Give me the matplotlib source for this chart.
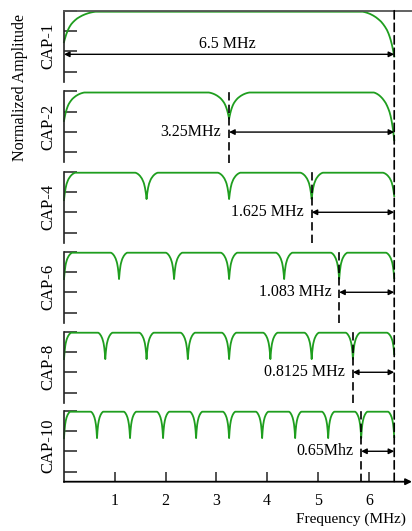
import numpy as np
import matplotlib.pyplot as plt
from matplotlib.patches import ConnectionPatch

plt.rcParams['font.family'] = ['Liberation Serif', 'DejaVu Serif']
plt.rcParams['font.size'] = 11.5

# CAP orders and their subband spacing
cap_orders = [1, 2, 4, 6, 8, 10]
bandwidth = 6.5  # MHz
spacing_labels = ['6.5 MHz', '3.25MHz', '1.625 MHz', '1.083 MHz', '0.8125 MHz', '0.65Mhz']

# shoulder width of each null (MHz) and depth of the curve at the edges / inner nulls
shoulder_w = [0.62, 0.40, 0.22, 0.16, 0.14, 0.12]
left_depth = [1.50, 1.40, 1.35, 1.30, 1.30, 1.30]
right_depth = [2.20, 2.35, 1.15, 1.25, 1.05, 1.25]
inner_depth = 1.30
top_level = 2.95

# null shoulder profile: offset (fraction of shoulder width) -> relative drop
prof_off = [0.0, 0.01, 0.02, 0.04, 0.06, 0.08, 0.11, 0.14, 0.18, 0.23,
            0.29, 0.35, 0.42, 0.50, 0.58, 0.67, 0.76, 0.85, 0.93, 1.0]
prof_drop = [1.0, 0.96, 0.92, 0.85, 0.78, 0.72, 0.64, 0.57, 0.49, 0.41,
             0.34, 0.28, 0.22, 0.17, 0.125, 0.085, 0.052, 0.027, 0.01, 0.0]

# arrow heights per panel (data units)
arrow_y = [0.85, 1.0, 1.0, 1.0, 1.0, 1.0]

green = '#1f9e1f'
W, H = 412, 531
panel_tops = [10.7, 91.5, 171.7, 251.7, 331.7, 410.7]
panel_h = 71
left_px = 64

fig = plt.figure(figsize=(W / 100, H / 100), dpi=100)
axes = []
for i, n in enumerate(cap_orders):
    top = panel_tops[i]
    ax = fig.add_axes([left_px / W, 1 - (top + panel_h) / H, (W - left_px) / W, panel_h / H])
    axes.append(ax)
    ax.set_xlim(0, 6.85)
    ax.set_ylim(-0.5, 3.0)
    ax.set_yticks([0, 1, 2, 3])
    ax.set_yticklabels([])
    for s in ['right', 'bottom']:
        ax.spines[s].set_visible(False)
    ax.spines['top'].set_visible(i == 0)
    ax.spines['top'].set_color('#555555')
    ax.spines['top'].set_linewidth(1.3)
    ax.spines['left'].set_color('#222222')
    ax.spines['left'].set_linewidth(1.2)
    ax.tick_params(axis='y', direction='in', length=9, width=1.2, color='#333333')

    # spectrum: flat top with cusps at every multiple of bandwidth / n
    step = bandwidth / n
    w = shoulder_w[i]
    xs, ys = [], []
    for k in range(n):
        a, b = k * step, (k + 1) * step
        da = left_depth[i] if k == 0 else inner_depth
        db = right_depth[i] if k == n - 1 else inner_depth
        for o, d in zip(prof_off, prof_drop):
            xs.append(a + o * w)
            ys.append(top_level - da * d)
        for o, d in zip(prof_off[::-1], prof_drop[::-1]):
            xs.append(b - o * w)
            ys.append(top_level - db * d)
    ax.plot(xs, ys, color=green, lw=1.3, clip_on=False)

    y = arrow_y[i]
    if n == 1:
        start = 0.0
        ax.text(bandwidth / 2 - 0.03, 1.38, spacing_labels[i], ha='center', va='center')
    else:
        start = bandwidth - step
        ax.axvline(start, color='k', lw=1.2, ls=(0, (5, 2.5)))
        ax.text(start - 0.15, y, spacing_labels[i], ha='right', va='center')
    ax.annotate('', xy=(bandwidth, y), xytext=(start, y),
                arrowprops=dict(arrowstyle='<|-|>', color='k', lw=1.0,
                                mutation_scale=8, shrinkA=0, shrinkB=0))
    ax.text(-0.044, 0.5, f'CAP-{n}', transform=ax.transAxes, rotation=90,
            ha='center', va='center', fontsize=12)

    if i < len(cap_orders) - 1:
        ax.set_xticks([])
    else:
        ax.set_xticks([1, 2, 3, 4, 5, 6])
        ax.tick_params(axis='x', direction='in', length=7.5, width=1.2,
                       color='#333333', pad=8)
        ax.annotate('', xy=(1.0, 0), xytext=(0, 0), xycoords='axes fraction',
                    arrowprops=dict(arrowstyle='-|>', color='k', lw=1.3,
                                    mutation_scale=9, shrinkA=0, shrinkB=0))

# band edge marker running through all panels
edge = ConnectionPatch(xyA=(bandwidth, 3.0), coordsA=axes[0].transData,
                       xyB=(bandwidth, -0.5), coordsB=axes[-1].transData,
                       color='k', lw=1.2, ls=(0, (5, 2.5)))
fig.add_artist(edge)

fig.text(20 / W, 1 - 87.5 / H, 'Normalized Amplitude', rotation=90,
         ha='center', va='center', fontsize=11.5)
fig.text(296 / W, 1 - 519 / H, 'Frequency (MHz)', ha='left', va='center', fontsize=11)

fig.savefig('out.png', dpi=100)
